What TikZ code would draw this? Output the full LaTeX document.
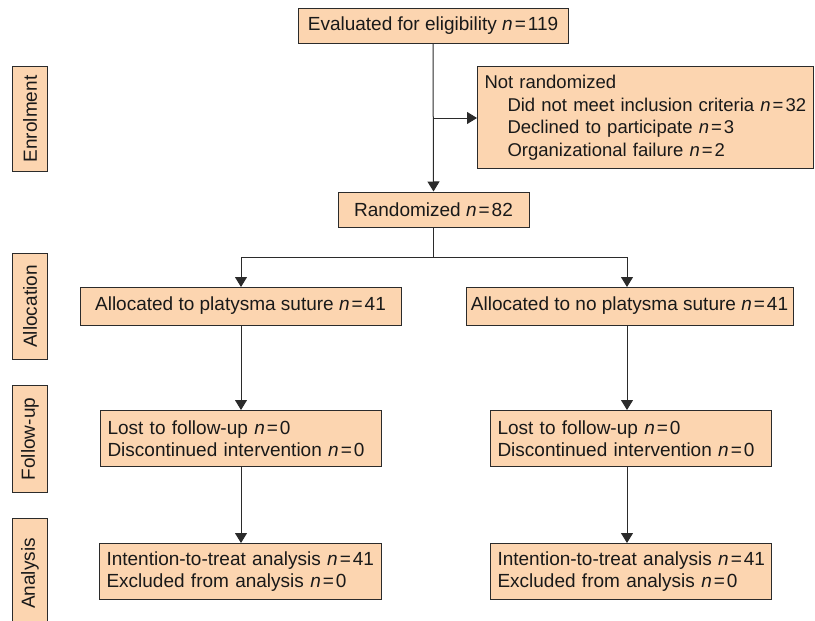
\documentclass[tikz,border=0pt]{standalone}
\usepackage{fontspec}
\setmainfont{Liberation Sans}
\usetikzlibrary{arrows.meta,positioning}
\definecolor{boxfill}{HTML}{FCD5B0}
\definecolor{linec}{HTML}{2B2B2B}
\newcommand{\nn}[1]{\textit{n}\kern2pt=\kern2pt#1}
\newcommand{\rowtxt}[1]{\mbox{#1}}
\tikzset{
  box/.style={draw=linec, line width=1pt, fill=boxfill, inner sep=0pt, font=\fontsize{19}{22.5}\selectfont, text=black!90},
  tbox/.style={box, anchor=north west, align=left, inner xsep=7pt},
  sidebox/.style={box, rotate=90, anchor=north east, minimum height=35pt},
  conn/.style={draw=linec, line width=1pt},
  arr/.style={conn, -{Triangle[length=10pt,width=12pt]}},
}
\begin{document}
\begin{tikzpicture}[x=1pt,y=-1pt]
\useasboundingbox (0,0) rectangle (815,621);
% main boxes
\node[box, minimum width=270pt, minimum height=35pt] (eval) at (433,25.5) {Evaluated for eligibility \nn{119}};
\node[tbox, text width=322pt, minimum height=102pt, font=\fontsize{18.5}{22.5}\selectfont] (notr) at (477,66) {\rowtxt{Not randomized}\\
\rowtxt{\hspace*{23pt}Did not meet inclusion criteria \nn{32}}\\
\rowtxt{\hspace*{23pt}Declined to participate \nn{3}}\\
\rowtxt{\hspace*{23pt}Organizational failure \nn{2}}};
\node[box, minimum width=191pt, minimum height=35pt] (rand) at (433.5,209.5) {Randomized \nn{82}};
\node[box, minimum width=321pt, minimum height=38pt] (allocL) at (240.5,306) {Allocated to platysma suture \nn{41}};
\node[box, minimum width=327pt, minimum height=38pt] (allocR) at (629.5,306) {Allocated to no platysma suture \nn{41}};
\node[tbox, text width=267pt, minimum height=56pt] (lostL) at (100,410) {\rowtxt{Lost to follow-up \nn{0}}\\\rowtxt{Discontinued intervention \nn{0}}};
\node[tbox, text width=267pt, minimum height=56pt] (lostR) at (490,410) {\rowtxt{Lost to follow-up \nn{0}}\\\rowtxt{Discontinued intervention \nn{0}}};
\node[tbox, text width=268pt, minimum height=56pt] (anaL) at (99,543) {\rowtxt{Intention-to-treat analysis \nn{41}}\\\rowtxt{Excluded from analysis \nn{0}}};
\node[tbox, text width=267pt, minimum height=56pt] (anaR) at (490,543) {\rowtxt{Intention-to-treat analysis \nn{41}}\\\rowtxt{Excluded from analysis \nn{0}}};
% side labels
\node[sidebox, minimum width=105pt] (s1) at (12,66) {Enrolment};
\node[sidebox, minimum width=106pt] (s2) at (12,253) {Allocation};
\node[sidebox, minimum width=107pt] (s3) at (12,385) {Follow-up};
\node[sidebox, minimum width=110pt] (s4) at (12,518) {Analysis};
% connectors
\coordinate (j1) at (eval.south |- 0,118);
\coordinate (j2) at (rand.south |- 0,257);
\draw[arr] (eval.south) -- (rand.north);
\draw[arr] (j1) -- (notr.west |- j1);
\draw[conn] (rand.south) -- (j2);
\draw[arr] (j2) -| (241,287);
\draw[arr] (j2) -| (627,287);
\draw[arr] (241,325) -- (241,410);
\draw[arr] (627,325) -- (627,410);
\draw[arr] (241,466) -- (241,543);
\draw[arr] (627,466) -- (627,543);
\end{tikzpicture}
\end{document}
